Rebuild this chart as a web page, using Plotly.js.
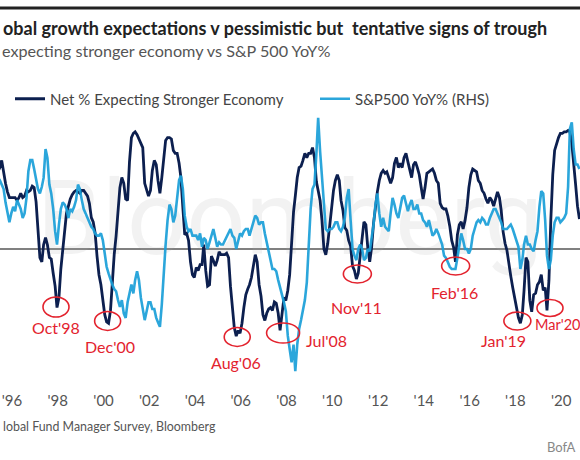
<!DOCTYPE html>
<html>
<head>
<meta charset="utf-8">
<script src="https://cdn.plot.ly/plotly-3.0.1.min.js"></script>
<style>
html,body{margin:0;padding:0;background:#ffffff;}
#chart{width:580px;height:460px;}
</style>
</head>
<body>
<div id="chart"></div>
<script>
// ---------------- DATA ----------------
// Monthly observations starting March 1996
const startYear = 1996;
const startMonth = 3;

// Net % of fund managers expecting a stronger economy (LHS)
const netPct = [
  54, 57, 62, 53, 46, 40, 36, 36, 36, 36,
  34, 36, 39, 36, 37, 41, 40, 41, 44, 43, 33, 13,
  -6, -9, 3, 8, 3, -6, -7, -17, -26, -41, -34, -14,
  1, 13, 25, 30, 35, 38, 40, 41, 40, 39, 41, 41,
  39, 37, 32, 22, 19, 11, -5, -18, -25, -35, -46, -51,
  -52, -43, -23, -4, 9, 27, 43, 50, 46, 35, 34, 61,
  78, 81, 82, 80, 77, 74, 71, 46, 41, 37, 41, 55,
  62, 59, 48, 39, 50, 64, 76, 78, 78, 77, 69, 67,
  67, 60, 50, 29, 10, 11, 6, -9, -18, -20, -13, -15,
  -11, -11, 3, -15, -26, -25, -5, -8, -12, -8, -2, -4,
  -4, -4, -3, -6, -26, -41, -55, -61, -57, -59, -52, -41,
  -32, -28, -25, -20, -13, -4, -9, -25, -33, -46, -50, -45,
  -42, -41, -43, -37, -38, -45, -57, -43, -34, -36, -29, -18,
  6, 26, 37, 50, 57, 58, 62, 67, 64, 67, 67, 71,
  64, 47, 41, 34, 20, 0, -4, 4, 16, 29, 41, 48,
  52, 48, 34, 27, 15, 13, 6, 2, -12, -15, -21, -17,
  -5, 6, 19, 17, 1, -9, 1, 18, 31, 40, 48, 53,
  55, 53, 54, 50, 46, 50, 60, 64, 57, 60, 57, 64,
  67, 61, 55, 50, 59, 61, 57, 52, 43, 35, 43, 53,
  54, 55, 56, 53, 48, 46, 32, 29, 28, 28, 23, 16,
  6, 1, -9, 10, 17, 19, 14, 20, 29, 43, 52, 56,
  55, 54, 48, 46, 41, 39, 35, 32, 36, 34, 30, 36,
  40, 36, 27, 12, 4, -1, -11, -19, -27, -34, -41, -48,
  -52, -46, -29, -6, -9, -36, -44, -32, -31, -25, -23, -18,
  -29, -27, -43, -22, 20, 52, 69, 74, 78, 81, 81, 82,
  82, 83, 82, 74, 62, 45, 30, 21
];

// S&P 500 year-on-year % change (RHS)
const spxYoY = [
  32, 31, 29, 27, 21, 16, 12, 16, 19, 17,
  22, 20, 18, 14, 16, 23, 35, 40, 40, 36, 32, 27,
  25, 28, 32, 45, 41, 29, 25, 18, 8, 2, 11, 18,
  21, 20, 18, 14, 18, 17, 19, 22, 29, 27, 22, 18,
  16, 14, 12, 10, 9, 7, 6, 6, 7, 4, -2, -8,
  -11, -14, -16, -18, -19, -23, -26, -23, -29, -31, -24, -20,
  -16, -20, -14, -10, -14, -22, -28, -32, -28, -24, -24, -27,
  -27, -31, -33, -35, -25, -10, 2, 13, 20, 18, 12, 15,
  23, 31, 33, 27, 15, 10, 8, 9, 6, 6, 6, 4,
  7, 1, 5, 4, 0, 3, 6, 9, 5, 1, 3, 2,
  2, 4, 5, 7, 9, 6, 5, 0, 4, 7, 6, 8,
  9, 9, 6, 9, 12, 15, 14, 11, 12, 12, 7, 3,
  -2, -6, -9, -9, -10, -14, -17, -21, -24, -28, -39, -45,
  -51, -43, -55, -43, -36, -32, -27, -23, -15, 0, 18, 27,
  29, 43, 59, 44, 32, 20, 9, 8, 9, 9, 10, 12,
  12, 9, 8, 10, 14, 23, 27, 13, 0, -3, -5, 0,
  2, 0, -5, -4, 0, -1, 4, 11, 20, 25, 16, 10,
  14, 10, 9, 8, 16, 23, 20, 16, 14, 18, 23, 24,
  21, 17, 20, 22, 18, 18, 20, 16, 16, 13, 12, 10,
  13, 9, 6, 7, 9, 7, 4, 2, -3, -4, -6, -8,
  -9, -9, -9, -4, 2, 7, 4, 0, 0, -2, 0, 6,
  9, 12, 13, 12, 14, 13, 11, 11, 14, 16, 18, 18,
  16, 14, 12, 9, 9, 9, 10, 11, 9, 6, 4, 1,
  -9, -5, 2, 6, 2, 2, 0, -1, 4, 8, 19, 26,
  25, 13, -3, -9, -5, 6, 12, 14, 14, 12, 13, 14,
  16, 28, 54, 57, 45, 38, 38, 36
];

// x-axis tick labels
const tickYears = [1996, 1998, 2000, 2002, 2004, 2006, 2008, 2010, 2012, 2014, 2016, 2018, 2020];
const tickLabels = ["'96", "'98", "'00", "'02", "'04", "'06", "'08", "'10", "'12", "'14", "'16", "'18", "'20"];

// Highlighted troughs (circled)
const troughLabels = ["Oct'98", "Dec'00", "Aug'06", "Jul'08", "Nov'11", "Feb'16", "Jan'19", "Mar'20"];
const troughDates  = ["1998-10-01", "2000-12-01", "2006-08-01", "2008-07-01", "2011-11-01", "2016-02-01", "2019-01-01", "2020-03-01"];
const troughLevels = [-40.6, -50.4, -61.6, -58.8, -17.5, -11.9, -50.4, -41.3];

// Texts visible in the (cropped) reference
const titleText = 'obal growth expectations v pessimistic but  tentative signs of trough';
const subtitleText = 'expecting stronger economy vs S&P 500 YoY%';
const sourceText = 'lobal Fund Manager Survey, Bloomberg';
const brandText = 'BofA';
const watermarkText = 'Bloomberg';

// ---------------- STYLE / POSITIONS ----------------
const W = 580, H = 460;
const M = {l: 0, r: 0, t: 105, b: 80};
const plotH = H - M.t - M.b;
const pyToPaper = py => (H - M.b - py) / plotH;
const pxToPaper = px => px / W;

// circle style per trough: [dx, width, height, labelDx, labelDy, labelAnchor]
const circleStyle = [
  [-1, 26, 20, -1, 20, 'center'],
  [ 1, 26, 19,  3, 25, 'center'],
  [ 1, 26, 19,  0, 25, 'center'],
  [ 3, 33, 20, 46,  7, 'center'],
  [ 1, 28, 18,  0, 33, 'center'],
  [ 2, 28, 18,  1, 26, 'center'],
  [-3, 27, 18,-17, 19, 'center'],
  [ 3, 26, 17,-14, 16, 'left']
];

const NAVY = '#0c1f4f';
const LIGHT = '#1b9fd8';
const RED = '#e3232e';
const FONT = 'Lato, "Open Sans", sans-serif';

// ---------------- BUILD ----------------
function monthlyDates(n) {
  const out = [];
  let y = startYear, m = startMonth;
  for (let i = 0; i < n; i++) {
    out.push(y + '-' + String(m).padStart(2, '0') + '-01');
    m++; if (m > 12) { m = 1; y++; }
  }
  return out;
}
const dates = monthlyDates(netPct.length);
const tickVals = tickYears.map(y => y + '-10-13');

const traces = [
  {
    x: ['2008-12-05'], y: [15], mode: 'text', text: [watermarkText],
    textfont: {family: 'Roboto, sans-serif', size: 104, color: 'rgba(170,170,170,0.15)'},
    hoverinfo: 'skip', showlegend: false, xaxis: 'x', yaxis: 'y'
  },
  {
    x: dates, y: netPct, name: 'Net % Expecting Stronger Economy',
    type: 'scatter', mode: 'lines', line: {color: NAVY, width: 2.8},
    yaxis: 'y', legend: 'legend'
  },
  {
    x: dates, y: spxYoY, name: 'S&P500 YoY% (RHS)',
    type: 'scatter', mode: 'lines', line: {color: LIGHT, width: 2.6},
    opacity: 0.93, yaxis: 'y2', legend: 'legend2'
  }
];

const shapes = [
  {type: 'line', xref: 'paper', yref: 'paper', x0: 0, x1: 1,
   y0: pyToPaper(8), y1: pyToPaper(8), line: {color: '#222', width: 3}}
];
const annotations = [
  {text: '<b>' + titleText + '</b>',
   xref: 'paper', yref: 'paper', x: pxToPaper(1), y: pyToPaper(28),
   xanchor: 'left', yanchor: 'middle', showarrow: false,
   font: {family: FONT, size: 18, color: '#222'}},
  {text: subtitleText,
   xref: 'paper', yref: 'paper', x: pxToPaper(0), y: pyToPaper(50),
   xanchor: 'left', yanchor: 'middle', showarrow: false,
   font: {family: FONT, size: 16.2, color: '#555'}},
  {text: sourceText,
   xref: 'paper', yref: 'paper', x: pxToPaper(1), y: pyToPaper(426),
   xanchor: 'left', yanchor: 'middle', showarrow: false,
   font: {family: FONT, size: 12.4, color: '#555'}},
  {text: brandText,
   xref: 'paper', yref: 'paper', x: pxToPaper(578), y: pyToPaper(447),
   xanchor: 'right', yanchor: 'middle', showarrow: false,
   font: {family: FONT, size: 13, color: '#888'}}
];

troughLabels.forEach((lab, i) => {
  const [dx, w, h, ldx, ldy, anc] = circleStyle[i];
  shapes.push({
    type: 'circle', xref: 'x', yref: 'y', xsizemode: 'pixel', ysizemode: 'pixel',
    xanchor: troughDates[i], yanchor: troughLevels[i],
    x0: dx - w / 2, x1: dx + w / 2, y0: -h / 2, y1: h / 2,
    line: {color: RED, width: 1.6}, fillcolor: 'rgba(0,0,0,0)', layer: 'above'
  });
  annotations.push({
    text: lab, xref: 'x', yref: 'y', x: troughDates[i], y: troughLevels[i],
    xshift: ldx, yshift: -ldy, xanchor: anc, yanchor: 'middle', showarrow: false,
    font: {family: FONT, size: (i === troughLabels.length - 1 ? 14.5 : 16), color: RED}
  });
});

const legendCommon = {
  orientation: 'h', xanchor: 'left', yanchor: 'middle',
  font: {family: FONT, size: 15, color: '#444'},
  bgcolor: 'rgba(0,0,0,0)', borderwidth: 0
};

const layout = {
  width: W, height: H,
  margin: {l: M.l, r: M.r, t: M.t, b: M.b, pad: 0},
  paper_bgcolor: '#ffffff', plot_bgcolor: '#ffffff',
  font: {family: FONT, color: '#444'},
  showlegend: true,
  legend: Object.assign({}, legendCommon, {x: pxToPaper(10), y: pyToPaper(99)}),
  legend2: Object.assign({}, legendCommon, {x: pxToPaper(315), y: pyToPaper(99)}),
  xaxis: {
    type: 'date', range: ['1996-04-04', '2021-08-10'],
    tickvals: tickVals, ticktext: tickLabels,
    tickfont: {family: FONT, size: 15, color: '#555'},
    ticks: '', showgrid: false, zeroline: false, showline: false,
    ticklabelstandoff: 10
  },
  yaxis: {
    range: [-91.7, 100.8], showticklabels: false, showgrid: false,
    zeroline: true, zerolinecolor: '#808080', zerolinewidth: 1.2, ticks: ''
  },
  yaxis2: {
    range: [-58.95, 64.8], overlaying: 'y', side: 'right',
    showticklabels: false, showgrid: false, zeroline: false, ticks: ''
  },
  shapes: shapes,
  annotations: annotations
};

Plotly.newPlot('chart', traces, layout, {displayModeBar: false, staticPlot: true});
</script>
</body>
</html>
